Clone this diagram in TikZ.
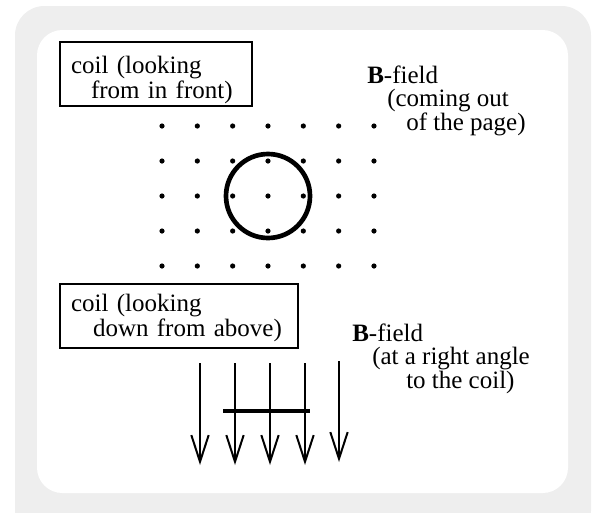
\documentclass[tikz,border=0pt]{standalone}
\usepackage{fontspec}
\setmainfont{Liberation Serif}
\usetikzlibrary{arrows.meta}
\definecolor{framegray}{RGB}{238,238,238}
\tikzset{
	labelbox/.style={draw, line width=1.5pt, anchor=north west, align=left, inner xsep=8.25pt, inner ysep=0pt, font=\fontsize{18.75}{18.75}\selectfont},
	fieldtext/.style={anchor=base west, align=left, inner sep=0pt, font=\fontsize{18.75}{17.6}\selectfont},
	fieldline/.style={line width=1.5pt, -{Straight Barb[length=20pt,width=13pt,line width=1.5pt]}},
}
\begin{document}
\begin{tikzpicture}[x=0.75pt,y=0.75pt,yscale=-1,xscale=1]
	\useasboundingbox (0,0) rectangle (592,512);
	% frame
	\fill [framegray, rounded corners=22pt] (15,6) rectangle (591,540);
	\fill [white, rounded corners=19pt] (37,30) rectangle (568,493);
	% coil seen from in front
	\foreach \i in {0,...,6}
		\foreach \j in {0,...,4}
			\fill (162+35.33*\i, 126+35*\j) circle (2.6);
	\draw [line width=3.5pt] (268,196) circle (42);
	\draw (59,41) node [labelbox, text width=127.5pt, text height=23.25pt, text depth=24.75pt] (frontbox) {coil (looking\\\hspace*{15pt}from in front)};
	\draw (367,130) node [fieldtext] (frontfield) {\textbf{B}-field\\\hspace*{15pt}(coming out\\\hspace*{29.25pt}of the page)};
	% coil seen from above
	\foreach \x in {200,235,270,305}
		\draw [fieldline] (\x,363) -- (\x,465);
	\draw [fieldline] (339,361) -- (339,462);
	\draw [line width=3.3pt] (223,411) -- (310,411);
	\draw (59,283) node [labelbox, text width=162pt, text height=20.25pt, text depth=27.75pt] (topbox) {coil (looking\\\hspace*{16.5pt}down from above)};
	\draw (352,388) node [fieldtext] (topfield) {\textbf{B}-field\\\hspace*{15pt}(at a right angle\\\hspace*{40.5pt}to the coil)};
\end{tikzpicture}
\end{document}
